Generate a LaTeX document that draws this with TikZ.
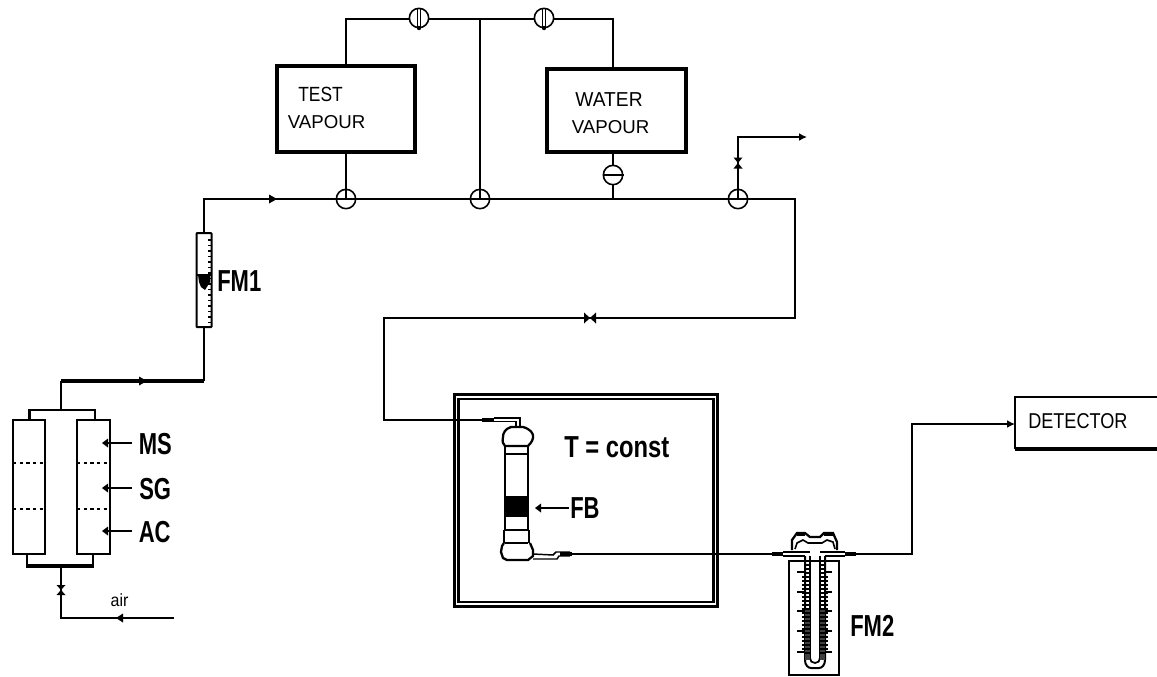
\documentclass[tikz,border=0pt]{standalone}
\usepackage{fontspec}
\setmainfont{Liberation Sans}
\usetikzlibrary{arrows.meta}
\tikzset{
  pipe/.style={line width=1.4pt,line join=miter},
  heavy/.style={line width=2.4pt},
  boxed/.style={draw,line width=2.45pt,inner sep=0pt,outer sep=0pt},
  lbl/.style={inner sep=0pt,font=\fontsize{16.5}{18}\selectfont\bfseries},
  plain/.style={inner sep=0pt,font=\fontsize{14}{16}\selectfont},
  small/.style={inner sep=0pt,font=\fontsize{12}{14}\selectfont},
  tick/.style={line width=.9pt},
  flow/.style={-{Latex[length=6pt,width=6pt]}},
  valvec/.style={circle,draw,line width=1.2pt,minimum size=14.5pt,inner sep=0pt,outer sep=0pt,fill=white},
  pt/.style={inner sep=0pt,outer sep=0pt}
}
\newcommand{\fwd}[3]{\fill (#1-4,#2-#3) -- (#1+4,#2) -- (#1-4,#2+#3) -- cycle;}
\newcommand{\tall}[1]{\scalebox{1}[1.38]{#1}}
\begin{document}
\begin{tikzpicture}[x=0.75pt,y=-0.75pt]
\useasboundingbox (0,0) rectangle (1157,676);
\fill[white] (0,0) rectangle (1157,676);
% boxes
\node[boxed,anchor=north west,minimum width=103.5pt,minimum height=64.5pt] (test) at (277,66) {};
\node[boxed,anchor=north west,minimum width=104.25pt,minimum height=62.25pt] (water) at (547,69) {};
\node[plain] (t1) at (320.5,94) {\scalebox{.93}[1.1]{TEST}};
\node[plain] (t2) at (326.5,122) {VAPOUR};
\node[plain] (t3) at (609,100) {\scalebox{1.03}[1.08]{WATER}};
\node[plain] (t4) at (610.5,127) {VAPOUR};
% top manifold
\coordinate (tl) at (346,19); \coordinate (tr) at (613,19); \coordinate (tm) at (480,19);
\coordinate (ml) at (346,199); \coordinate (mm) at (480,199); \coordinate (mo) at (738,199); \coordinate (mw) at (613,199);
\draw[pipe] (test.north) -- (tl) -- (tr) -- (water.north -| tr);
\draw[pipe] (tm) -- (mm);
\draw[pipe] (test.south) -- (ml);
\draw[pipe] (water.south -| mw) -- (mw);
% FM1 node first so that the line may start from it
\node[draw,line width=1.5pt,fill=white,pt,anchor=north,minimum width=11.25pt,minimum height=70.5pt,rounded corners=.5pt] (fm1) at (204,233) {};
% main line
\coordinate (c1) at (204,199); \coordinate (c2) at (795,199); \coordinate (c3) at (795,318); \coordinate (c4) at (384,318); \coordinate (c5) at (384,420);
\draw[pipe] (fm1.north) -- (c1) -- (c2) -- (c3) -- (c4) -- (c5) -- (484,420);
\fwd{273}{199}{4.5}
% 3-way valves on line
\foreach \n/\x in {vl/346,vm/480,vo/738}{
  \node[valvec] (\n) at (\x,199) {};
  \draw[line width=1.1pt] (\x,189) -- (\x,199) (\x-9.5,199) -- (\x+9.5,199);
}
% top valves
\foreach \n/\x in {va/419,vb/544}{
  \node[valvec] (\n) at (\x,18) {};
  \draw[line width=1.1pt] (\x-1.5,8) -- (\x-1.5,27) (\x+1.5,8) -- (\x+1.5,27);
  \fill (\x,28) circle (2.2);
}
% water valve
\node[valvec] (vw) at (613,175) {};
\draw[line width=1.3pt] (602.5,175) -- (623.5,175);
% outlet
\coordinate (o1) at (738,137); \coordinate (o2) at (807,137);
\draw[pipe,flow] (vo) -- (o1) -- (o2);
\fill (733.5,157.5) -- (742.5,157.5) -- (738,163) -- cycle;
\fill (733.5,168.5) -- (742.5,168.5) -- (738,163) -- cycle;
% FM1 scale
\foreach \y in {240,245.5,...,324} \draw[line width=1.1pt] (208,\y) -- (212,\y);
\fill (198,275) -- (210,275) -- (210,282) -- (205,290) -- (201,287) -- (199,282) -- cycle;
\draw[line width=1.5pt] (197,275) -- (212,275);
\node[lbl,anchor=west] (lfm1) at (217,281) {\tall{FM1}};
% heavy line to columns
\coordinate (h1) at (204,381); \coordinate (h2) at (61,381); \coordinate (h3) at (61,410);
\draw[pipe] (fm1.south) -- (h1);
\draw[heavy] (h1) -- (h2);
\draw[line width=1.8pt] (h2) -- (h3);
\fwd{143}{381}{4.5}
% columns
\node[draw,line width=1.6pt,pt,anchor=north west,minimum width=24pt,minimum height=100.5pt] (cl) at (13,420) {};
\node[draw,line width=1.6pt,pt,anchor=north west,minimum width=24.75pt,minimum height=100.5pt] (cr) at (77,420) {};
\draw[line width=1.5pt,dash pattern=on 2.5pt off 2.5pt] (13,463) -- (45,463) (77,463) -- (110,463) (13,509) -- (45,509) (77,509) -- (110,509);
\draw[line width=2pt] (29.5,420) -- (29.5,410) -- (95,410) -- (95,420);
\draw[line width=2pt] (27,554) -- (27,565) (93,554) -- (93,565);
\draw[line width=3.4pt] (26,566) -- (94,566);
\coordinate (a1) at (61,618); \coordinate (a2) at (174,618);
\draw[pipe] (61,567) -- (a1) -- (a2);
\fill (56.5,585) -- (65.5,585) -- (61,590) -- cycle;
\fill (56.5,595) -- (65.5,595) -- (61,590) -- cycle;
\fill (116,618) -- (123,613.5) -- (123,622.5) -- cycle;
\node[small,anchor=base] (lair) at (119.5,606) {\scalebox{1}[1.1]{air}};
% column labels
\foreach \n/\y/\xl in {MS/443/138.5,SG/488/139,AC/531/138.5}{
  \draw[pipe] (106,\y) -- (132,\y);
  \fill (102,\y) -- (108,\y-4.5) -- (108,\y+4.5) -- cycle;
  \node[lbl,anchor=west] (l\n) at (\xl,\y+1.5) {\tall{\n}};
}
% oven
\node[draw,line width=1.55pt,pt,anchor=north west,minimum width=197.25pt,minimum height=159pt] (oven) at (454.5,394.5) {};
\node[draw,line width=1.55pt,pt,anchor=north west,minimum width=191.25pt,minimum height=152.25pt] (ovin) at (458.5,399) {};
\node[lbl,anchor=west] (ltc) at (564,447) {\scalebox{1.08}[1.38]{T = const}};
% restriction on return line
\fill (584,312.5) -- (590,318) -- (584,323.5) -- cycle;
\fill (596,312.5) -- (590,318) -- (596,323.5) -- cycle;
% reactor
\draw[line width=3.2pt] (482,420) -- (494,420);
\draw[line width=1.1pt] (494,418) -- (520,418) -- (520,427) (494,421.5) -- (516,421.5) -- (516,427);
\draw[line width=1.7pt,fill=white] (511,427) -- (523,427) .. controls (530,429) and (534,433) .. (533,438) .. controls (532,442) and (530,444) .. (528,446) -- (505,446) .. controls (503,444) and (502,442) .. (503,437) .. controls (503,433) and (505,429) .. (511,427) -- cycle;
\draw[line width=1.7pt] (505,446) -- (505,530) (528,446) -- (528,530);
\draw[line width=1.6pt] (505,454) -- (528,454);
\fill (505,496) rectangle (529,517);
\draw[line width=1.6pt] (505,530) -- (528,530) (505,543) -- (528,543);
\draw[line width=2pt] (504,530) -- (504,543) (529,530) -- (529,543);
\draw[line width=1.7pt] (504,543) -- (502,546) -- (501,552) -- (503,558) -- (507,560) -- (528,560) -- (533,556) -- (533,550) -- (530,543);
\draw[line width=1.1pt] (533,554) -- (553,555) -- (556,552) -- (570,552) (533,559) -- (557,559) -- (559,556) -- (570,556);
\draw[line width=3.4pt] (560,554) -- (572,554);
\coordinate (r1) at (572,554);
% FB
\draw[pipe] (539,508) -- (569,508);
\fill (535,508) -- (541,503.5) -- (541,512.5) -- cycle;
\node[lbl,anchor=west] (lfb) at (570,508) {\tall{FB}};
% to FM2
\coordinate (f1) at (772,554); \coordinate (f2) at (856,554); \coordinate (d1) at (912,554); \coordinate (d2) at (912,424); \coordinate (d3) at (1015,424);
\draw[pipe] (r1) -- (f1);
% FM2
\node[draw,line width=1.4pt,pt,anchor=north west,minimum width=37.5pt,minimum height=85.5pt] (fm2) at (789,561) {};
\foreach \y in {572,592,611,631,652}{\draw[tick] (797,\y) -- (804,\y) (826,\y) -- (832,\y);}
\foreach \y in {577,581,...,650}{\draw[tick] (802,\y) -- (805,\y) (825,\y) -- (828,\y);}
\draw[line width=1.5pt] (805,556) -- (805,660) .. controls (805,665) and (808,668) .. (811,668) -- (819,668) .. controls (822,668) and (825,665) .. (825,660) -- (825,556);
\draw[line width=1.3pt] (810,556) -- (810,658) .. controls (810,661) and (812,663) .. (815,663) .. controls (818,663) and (820,661) .. (820,658) -- (820,556);
\fill[black!75] (805,608) rectangle (810,660);
\fill[black!75] (820,608) rectangle (825,660);
\foreach \y in {565,569,...,656}{\draw[line width=.8pt] (805,\y) -- (810,\y) (820,\y) -- (825,\y);}
% FM2 top piece
\draw[line width=3pt] (772,554) -- (783,554) (845,554) -- (856,554);
\draw[line width=1.1pt] (783,552) -- (810,552) (783,556) -- (805,556) (820,552) -- (845,552) (825,556) -- (845,556);
\draw[line width=1.7pt] (792,550) -- (792,540) -- (797,533) -- (805,533) -- (810,537) -- (820,537) -- (824,533) -- (833,533) -- (837,542) -- (837,550);
\draw[line width=1.2pt] (795,549) -- (797,543) -- (803,540) -- (808,543) -- (822,543) -- (827,540) -- (833,542) -- (835,549);
\draw[line width=2.8pt] (797,534) -- (805,534) (824,534) -- (833,534);
\node[lbl,anchor=west] (lfm2) at (850,626) {\tall{FM2}};
% detector
\draw[pipe,-{Latex[length=6pt,width=6pt]}] (f1 -| f2) -- (d1) -- (d2) -- (d3);
\coordinate (b1) at (1157,397); \coordinate (b2) at (1015,397); \coordinate (b3) at (1015,449); \coordinate (b4) at (1157,449);
\draw[line width=1.5pt] (b1) -- (b2) -- (b3);
\draw[line width=2.6pt] (b3) -- (b4);
\node[plain,anchor=west] (det) at (1028,421) {\scalebox{.97}[1.15]{DETECTOR}};
\end{tikzpicture}
\end{document}
